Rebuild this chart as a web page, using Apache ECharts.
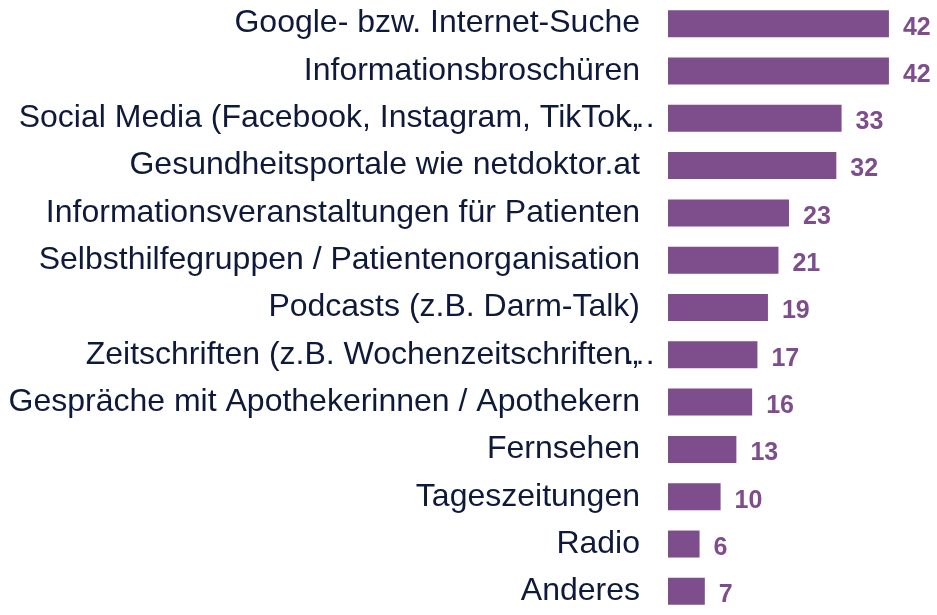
<!DOCTYPE html>
<html>
<head>
<meta charset="utf-8">
<script src="https://cdn.jsdelivr.net/npm/echarts@6/dist/echarts.min.js"></script>
<style>
  html, body { margin: 0; padding: 0; background: #fff; }
  #chart { width: 937px; height: 615px; }
</style>
</head>
<body>
<div id="chart"></div>
<script>
// Kategorien von oben nach unten
var categories = [
    'Google- bzw. Internet-Suche',
    'Informationsbroschüren',
    'Social Media (Facebook, Instagram, TikTok,…',
    'Gesundheitsportale wie netdoktor.at',
    'Informationsveranstaltungen für Patienten',
    'Selbsthilfegruppen / Patientenorganisation',
    'Podcasts (z.B. Darm-Talk)',
    'Zeitschriften (z.B. Wochenzeitschriften,…',
    'Gespräche mit Apothekerinnen / Apothekern',
    'Fernsehen',
    'Tageszeitungen',
    'Radio',
    'Anderes'
];

var values = [42, 42, 33, 32, 23, 21, 19, 17, 16, 13, 10, 6, 7];

var myChart = echarts.init(document.getElementById('chart'));

var labelFont = "'Liberation Sans', Arial, sans-serif";

var option = {
    animation: false,
    grid: {
        left: 668,
        right: 6,
        top: -4,
        bottom: -9
    },
    xAxis: {
        type: 'value',
        min: 0,
        max: 50,
        show: false
    },
    yAxis: {
        type: 'category',
        inverse: true,
        data: categories,
        axisLine: {show: false},
        axisTick: {show: false},
        axisLabel: {
            margin: 28,
            fontFamily: labelFont,
            fontSize: 32,
            color: '#0f1a3a',
            // abgeschnittene Labels: "…" ragt wie im Original über den Rand
            formatter: function (v) {
                if (v.charAt(v.length - 1) === '…') {
                    return '{t|' + v.slice(0, -1) + '}{e|…}';
                }
                return v;
            },
            rich: {
                t: {fontFamily: labelFont, fontSize: 32, color: '#0f1a3a'},
                e: {fontFamily: labelFont, fontSize: 32, color: '#0f1a3a', width: 0, align: 'left'}
            }
        }
    },
    series: [{
        type: 'bar',
        data: values,
        barWidth: 27,
        itemStyle: {color: '#7e4d8b'},
        label: {
            show: true,
            position: 'right',
            distance: 14,
            offset: [0, 4],
            fontFamily: labelFont,
            fontSize: 25,
            fontWeight: 'bold',
            color: '#7e4d8b'
        }
    }]
};

myChart.setOption(option);
</script>
</body>
</html>
